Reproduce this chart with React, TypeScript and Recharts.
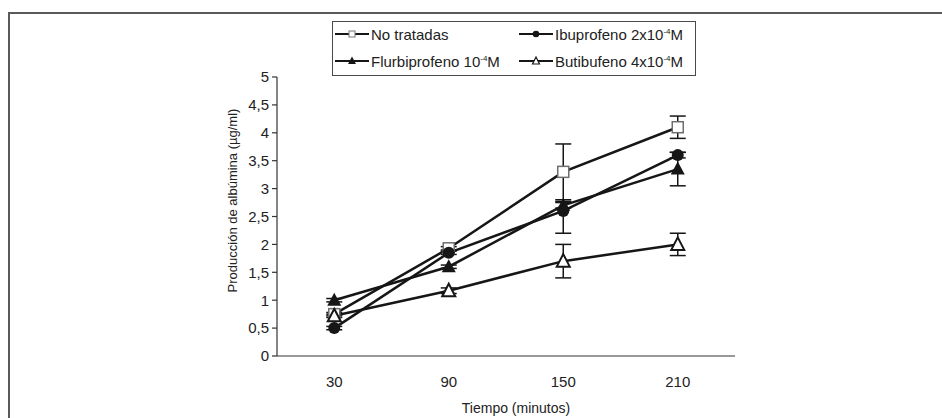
import React from 'react';
import { LineChart, Line, XAxis, YAxis, ErrorBar } from 'recharts';

const categories = ['30', '90', '150', '210'];
const noTratadas = [0.75, 1.93, 3.3, 4.1];
const noTratadasErr = [0.03, 0.03, 0.5, 0.2];
const ibuprofeno = [0.5, 1.85, 2.6, 3.6];
const ibuprofenoErr = [[0.03, 0.03], [0.03, 0.03], [0.4, 0.17], [0.05, 0.05]];
const flurbiprofeno = [1.0, 1.6, 2.7, 3.35];
const flurbiprofenoErr = [0.03, 0.03, 0.05, 0.3];
const butibufeno = [0.72, 1.17, 1.7, 2.0];
const butibufenoErr = [0.03, 0.05, 0.3, 0.2];
const yTicks = [0, 0.5, 1, 1.5, 2, 2.5, 3, 3.5, 4, 4.5, 5];

const data = categories.map((c, i) => ({
  x: i + 0.5,
  cat: c,
  sq: noTratadas[i],
  sqErr: noTratadasErr[i],
  ci: ibuprofeno[i],
  ciErr: ibuprofenoErr[i],
  tf: flurbiprofeno[i],
  tfErr: flurbiprofenoErr[i],
  to: butibufeno[i],
  toErr: butibufenoErr[i],
}));

const gridTicks = [...categories.map((_, i) => i), categories.length];
const labelTicks = categories.map((_, i) => i + 0.5);

const INK = '#161616';
const FONT = 15;

const Square = (p: any) => (
  <rect key={p.key} x={p.cx - 5.5} y={p.cy - 5.5} width={11} height={11} fill="#fff" stroke="#6e6e6e" strokeWidth={1.5} />
);
const Circle = (p: any) => <circle key={p.key} cx={p.cx} cy={p.cy} r={6} fill={INK} />;
const TriFilled = (p: any) => (
  <path key={p.key} d={`M${p.cx},${p.cy - 7.5}L${p.cx + 7},${p.cy + 5.5}L${p.cx - 7},${p.cy + 5.5}Z`} fill={INK} />
);
const TriOpen = (p: any) => (
  <path key={p.key} d={`M${p.cx},${p.cy - 7}L${p.cx + 6.5},${p.cy + 5.5}L${p.cx - 6.5},${p.cy + 5.5}Z`} fill="#fff" stroke={INK} strokeWidth={2} />
);

const legendItems = [
  { name: 'No tratadas', sup: '', tail: '', kind: 'sq' },
  { name: 'Ibuprofeno 2x10', sup: '-4', tail: 'M', kind: 'ci' },
  { name: 'Flurbiprofeno 10', sup: '-4', tail: 'M', kind: 'tf' },
  { name: 'Butibufeno 4x10', sup: '-4', tail: 'M', kind: 'to' },
];

const LegendIcon = ({ kind }: { kind: string }) => (
  <svg width={34} height={12} style={{ display: 'block' }}>
    <line x1={0} y1={6} x2={34} y2={6} stroke={INK} strokeWidth={2} />
    {kind === 'sq' && <rect x={14} y={3} width={6} height={6} fill="#fff" stroke="#777" strokeWidth={1} />}
    {kind === 'ci' && <circle cx={17} cy={6} r={3.3} fill={INK} />}
    {kind === 'tf' && <path d="M17,1.5L21,9L13,9Z" fill={INK} />}
    {kind === 'to' && <path d="M17,2L20.5,9L13.5,9Z" fill="#fff" stroke={INK} strokeWidth={1.2} />}
  </svg>
);

export default function App() {
  return (
    <div style={{ position: 'absolute', left: 0, top: 0, width: 942, height: 418, overflow: 'hidden', background: '#fff', fontFamily: '"Liberation Sans", Arial, sans-serif' }}>
      <div style={{ position: 'absolute', left: 8, top: 12, width: 960, height: 440, borderLeft: '2px solid #5a5a5a', borderTop: '2px solid #5a5a5a' }} />
      <div style={{ position: 'absolute', left: 0, top: 0 }}>
        <LineChart width={942} height={418} data={data} margin={{ top: 77, right: 207, bottom: 60, left: 217 }}>
          <XAxis
            xAxisId="grid"
            type="number"
            dataKey="x"
            domain={[0, 4]}
            ticks={gridTicks}
            interval={0}
            tick={false}
            tickSize={6}
            height={1}
            axisLine={{ stroke: '#333', strokeWidth: 1.2 }}
            tickLine={{ stroke: '#333', strokeWidth: 1.2 }}
          />
          <XAxis
            xAxisId="lab"
            type="number"
            dataKey="x"
            domain={[0, 4]}
            ticks={labelTicks}
            interval={0}
            tickFormatter={(v: number) => categories[Math.floor(v)]}
            tickLine={false}
            axisLine={false}
            tickSize={0}
            tickMargin={19}
            height={1}
            tick={{ fill: '#222', fontSize: FONT }}
            label={{
              content: (props: any) => {
                const vb = props.viewBox || {};
                return (
                  <text x={vb.x + vb.width / 2 + 10} y={vb.y + 56} textAnchor="middle" fill="#222" fontSize={14}>
                    Tiempo (minutos)
                  </text>
                );
              },
            }}
          />
          <YAxis
            type="number"
            domain={[0, 5]}
            ticks={yTicks}
            interval={0}
            width={60}
            tickSize={5}
            tickMargin={3}
            tickFormatter={(v: number) => String(v).replace('.', ',')}
            axisLine={{ stroke: '#333', strokeWidth: 1.2 }}
            tickLine={{ stroke: '#333', strokeWidth: 1.2 }}
            tick={{ fill: '#222', fontSize: FONT }}
            label={{
              content: (props: any) => {
                const vb = props.viewBox || {};
                const x = vb.x + 15;
                const y = vb.y + vb.height / 2 - 16;
                return (
                  <text x={x} y={y} transform={`rotate(-90, ${x}, ${y})`} textAnchor="middle" dominantBaseline="central" fill="#222" fontSize={13}>
                    Producción de albúmina (µg/ml)
                  </text>
                );
              },
            }}
          />
          <Line xAxisId="lab" dataKey="sq" stroke={INK} strokeWidth={2.5} dot={Square} activeDot={false} isAnimationActive={false}>
            <ErrorBar dataKey="sqErr" direction="y" width={8} stroke={INK} strokeWidth={1.5} />
          </Line>
          <Line xAxisId="lab" dataKey="to" stroke={INK} strokeWidth={2.5} dot={TriOpen} activeDot={false} isAnimationActive={false}>
            <ErrorBar dataKey="toErr" direction="y" width={8} stroke={INK} strokeWidth={1.5} />
          </Line>
          <Line xAxisId="lab" dataKey="tf" stroke={INK} strokeWidth={2.5} dot={TriFilled} activeDot={false} isAnimationActive={false}>
            <ErrorBar dataKey="tfErr" direction="y" width={8} stroke={INK} strokeWidth={1.5} />
          </Line>
          <Line xAxisId="lab" dataKey="ci" stroke={INK} strokeWidth={2.5} dot={Circle} activeDot={false} isAnimationActive={false}>
            <ErrorBar dataKey="ciErr" direction="y" width={8} stroke={INK} strokeWidth={1.5} />
          </Line>
        </LineChart>
      </div>
      <div
        style={{
          position: 'absolute',
          left: 332,
          top: 21,
          width: 364,
          height: 55,
          boxSizing: 'border-box',
          border: '1px solid #4a4a4a',
          background: '#fff',
          fontSize: FONT,
          color: '#222',
        }}
      >
        {legendItems.map((it, i) => {
          const col = i % 2;
          const row = Math.floor(i / 2);
          return (
            <div
              key={it.name}
              style={{
                position: 'absolute',
                left: col === 0 ? 2 : 186,
                top: row === 0 ? 2 : 29,
                height: 20,
                display: 'flex',
                alignItems: 'center',
                whiteSpace: 'nowrap',
              }}
            >
              <LegendIcon kind={it.kind} />
              <span style={{ marginLeft: 2 }}>
                {it.name}
                {it.sup && <sup style={{ fontSize: 8, verticalAlign: 6 }}>{it.sup}</sup>}
                {it.tail}
              </span>
            </div>
          );
        })}
      </div>
    </div>
  );
}
